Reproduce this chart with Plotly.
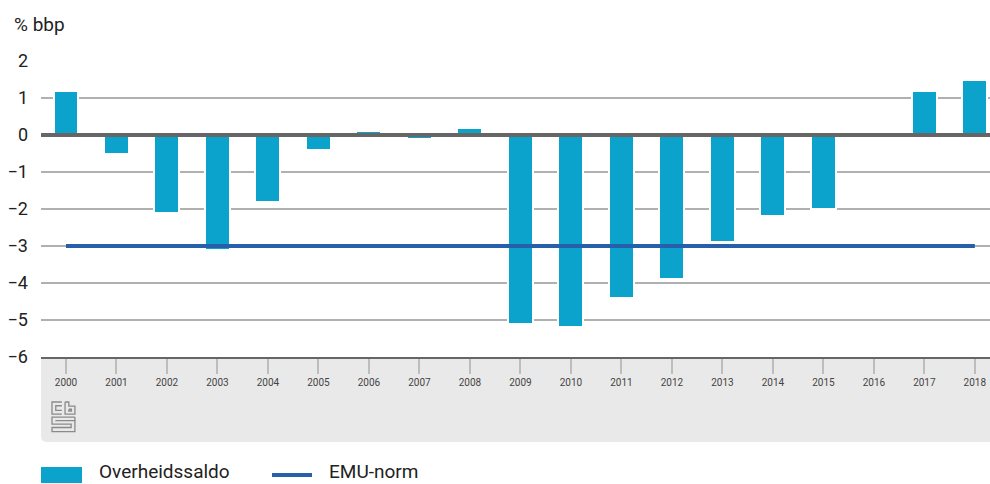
import plotly.graph_objects as go

years = list(range(2000, 2019))
saldo = [1.2, -0.5, -2.1, -3.1, -1.8, -0.4, 0.1, -0.1, 0.2,
         -5.1, -5.2, -4.4, -3.9, -2.9, -2.2, -2.0, 0.0, 1.2, 1.5]
emu_norm = [-3] * len(years)
y_ticks = [2, 1, 0, -1, -2, -3, -4, -5, -6]

W, H = 990, 484
L, R, T, B = 41, 990, 61, 357  # plot area in pixels


def px(x):
    return (x - L) / (R - L)


def py(y):
    return (B - y) / (B - T)


fig = go.Figure()
fig.add_trace(go.Bar(
    x=years, y=saldo, name="Overheidssaldo", width=0.495,
    marker=dict(color="#0ba2cb", line=dict(color="#ffffff", width=2)),
    showlegend=False,
))
fig.add_trace(go.Scatter(
    x=years, y=emu_norm, name="EMU-norm", mode="lines",
    line=dict(color="#2660aa", width=4), showlegend=False,
))

shapes = []
# grey footer box with rounded bottom-left corner
r = 6
shapes.append(dict(
    type="path", xref="paper", yref="paper", layer="below",
    path=(f"M {px(L)},{py(B)} L {px(R)},{py(B)} L {px(R)},{py(442)} "
          f"L {px(L + r)},{py(442)} Q {px(L)},{py(442)} {px(L)},{py(442 - r)} Z"),
    fillcolor="#e9e9e9", line=dict(width=0),
))
# zero line on top of the bars
shapes.append(dict(type="line", xref="paper", yref="y", x0=0, x1=1, y0=0, y1=0,
                   layer="above", line=dict(color="#666666", width=4)))

# cbs logo (rough line drawing)
lx, ly, s = 52, 402, 2.9
logo_paths = [
    [(3.4, 0), (0, 0), (0, 4.2), (3.4, 4.2)],
    [(3.4, 1.3), (1.3, 1.3), (1.3, 2.9), (3.4, 2.9)],
    [(4.5, 0), (4.5, 4.2), (7.9, 4.2), (7.9, 1.4), (5.8, 1.4), (5.8, 0), (4.5, 0)],
    [(5.8, 2.5), (6.7, 2.5), (6.7, 3.1), (5.8, 3.1), (5.8, 2.5)],
    [(7.9, 5.2), (0, 5.2), (0, 7.6), (6.6, 7.6), (6.6, 8.8), (0, 8.8), (0, 10.2),
     (7.9, 10.2), (7.9, 6.4), (1.3, 6.4), (1.3, 6.4)],
    [(7.9, 6.4), (7.9, 5.2)],
    [(1.3, 6.4), (1.3, 6.6)],
]
for pts in logo_paths:
    d = "M " + " L ".join(f"{px(lx + a * s)},{py(ly + b * s)}" for a, b in pts)
    shapes.append(dict(type="path", xref="paper", yref="paper", path=d,
                       line=dict(color="#8a8a8a", width=1.3)))

# custom legend
shapes.append(dict(type="rect", xref="paper", yref="paper",
                   x0=px(41), x1=px(82), y0=py(467), y1=py(483),
                   fillcolor="#0ba2cb", line=dict(width=0)))
shapes.append(dict(type="line", xref="paper", yref="paper",
                   x0=px(272), x1=px(312), y0=py(475), y1=py(475),
                   line=dict(color="#2660aa", width=4)))

annotations = [
    dict(text="% bbp", x=px(12), y=py(25), xref="paper", yref="paper",
         xanchor="left", yanchor="middle", showarrow=False,
         font=dict(size=19, color="#222222")),
    dict(text="Overheidssaldo", x=px(98), y=py(471), xref="paper", yref="paper",
         xanchor="left", yanchor="middle", showarrow=False, borderpad=0,
         font=dict(size=19, color="#222222")),
    dict(text="EMU-norm", x=px(328), y=py(471), xref="paper", yref="paper",
         xanchor="left", yanchor="middle", showarrow=False, borderpad=0,
         font=dict(size=19, color="#222222")),
]

fig.update_layout(
    width=W, height=H,
    margin=dict(l=L, r=W - R, t=T, b=H - B, pad=0),
    plot_bgcolor="white", paper_bgcolor="white",
    font=dict(family="Roboto, sans-serif", color="#222222"),
    shapes=shapes, annotations=annotations,
    bargap=0, showlegend=False,
)
fig.update_xaxes(
    range=[1999.505, 2018.3], tickvals=years, ticktext=[str(y) for y in years],
    ticks="outside", ticklen=15, tickwidth=1.5, tickcolor="#bdbdbd",
    tickfont=dict(size=10, color="#444444"),
    showgrid=False, zeroline=False,
    showline=True, linecolor="#666666", linewidth=2,
)
fig.update_yaxes(
    range=[-6, 2], tickvals=y_ticks,
    ticktext=[str(v).replace("-", "\u2212") for v in y_ticks],
    tickfont=dict(size=18, color="#222222"), ticklabelstandoff=12,
    showgrid=True, gridcolor="#b0b0b0", gridwidth=2, zeroline=False,
)

fig.write_html("out.html", config={"displayModeBar": False},
               post_script="document.body.style.margin='0';"
                           "document.body.style.overflow='hidden';")
